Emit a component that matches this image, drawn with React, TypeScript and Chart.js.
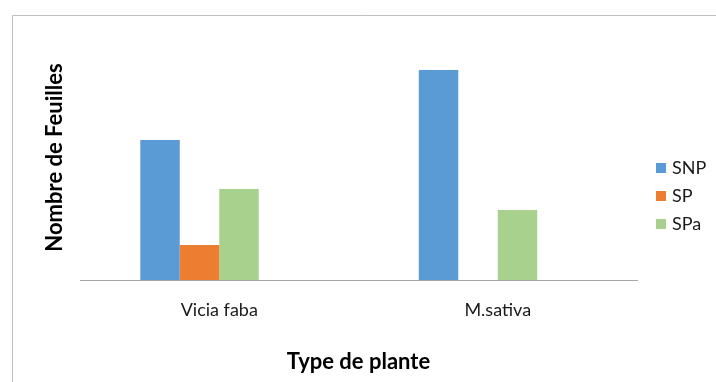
import React, { useEffect, useRef } from "react";
import { Chart, registerables } from "chart.js";

Chart.register(...registerables);

const categories = ["Vicia faba", "M.sativa"];
const seriesLabels = ["SNP", "SP", "SPa"];
const snpValues = [4, 6];
const spValues = [1, null];
const spaValues = [2.6, 2];
const emptyValues = [null, null];
const seriesColors = ["#5B9BD5", "#ED7D31", "#A9D18E"];
const yTitle = "Nombre de Feuilles";
const xTitle = "Type de plante";

const FONT = "Lato, 'Liberation Sans', sans-serif";

const framePlugin = {
  id: "frame",
  beforeDraw(chart: any) {
    const ctx = chart.ctx;
    ctx.save();
    ctx.fillStyle = "#ffffff";
    ctx.fillRect(0, 0, chart.width, chart.height);
    ctx.strokeStyle = "#BFBFBF";
    ctx.lineWidth = 1;
    ctx.beginPath();
    ctx.moveTo(12.5, chart.height);
    ctx.lineTo(12.5, 15.5);
    ctx.lineTo(chart.width, 15.5);
    ctx.stroke();
    ctx.restore();
  },
};

const legendPlugin = {
  id: "customLegend",
  afterDraw(chart: any) {
    const ctx = chart.ctx;
    ctx.save();
    ctx.font = `18px ${FONT}`;
    ctx.textBaseline = "middle";
    ctx.textAlign = "left";
    let row = 0;
    chart.data.datasets.forEach((ds: any) => {
      if (!ds.label) return;
      const cy = 168 + row * 28;
      ctx.fillStyle = ds.backgroundColor;
      ctx.fillRect(656, cy - 5, 10, 10);
      ctx.fillStyle = "#1a1a1a";
      ctx.fillText(ds.label, 672, cy);
      row++;
    });
    ctx.restore();
  },
};

export default function App() {
  const ref = useRef<HTMLCanvasElement>(null);
  useEffect(() => {
    if (!ref.current) return;
    const chart = new Chart(ref.current, {
      type: "bar",
      data: {
        labels: categories,
        datasets: [
          { label: seriesLabels[0], data: snpValues, backgroundColor: seriesColors[0] },
          { label: seriesLabels[1], data: spValues, backgroundColor: seriesColors[1] },
          { label: seriesLabels[2], data: spaValues, backgroundColor: seriesColors[2] },
          { label: "", data: emptyValues, backgroundColor: "rgba(0,0,0,0)" },
        ] as any,
      },
      options: {
        responsive: false,
        animation: false,
        devicePixelRatio: 1,
        layout: { padding: { left: 0, top: 35, right: 79, bottom: 0 } },
        datasets: { bar: { categoryPercentage: 0.567, barPercentage: 1, borderWidth: 0 } } as any,
        plugins: {
          legend: { display: false },
          tooltip: { enabled: false },
        },
        scales: {
          x: {
            grid: { display: false, drawTicks: false },
            border: { display: true, color: "#A6A6A6", width: 1 },
            ticks: { color: "#1a1a1a", font: { family: FONT, size: 18 }, padding: 19 },
            title: {
              display: true,
              text: xTitle,
              color: "#000",
              font: { family: FONT, size: 22, weight: "bold" },
              padding: { top: 0, bottom: 7 },
            },
            afterFit(scale: any) {
              scale.height = 102;
            },
          },
          y: {
            min: 0,
            max: 7,
            grid: { display: false, drawTicks: false },
            border: { display: false },
            ticks: { display: false },
            title: {
              display: true,
              text: yTitle,
              color: "#000",
              font: { family: FONT, size: 22, weight: "bold" },
              padding: { top: 42, bottom: 0 },
            },
            afterFit(scale: any) {
              scale.width = 80;
            },
          },
        },
      },
      plugins: [framePlugin, legendPlugin],
    });
    return () => chart.destroy();
  }, []);
  return (
    <div style={{ position: "absolute", left: 0, top: 0, width: 716, height: 382 }}>
      <canvas ref={ref} width={716} height={382} style={{ display: "block" }} />
    </div>
  );
}
